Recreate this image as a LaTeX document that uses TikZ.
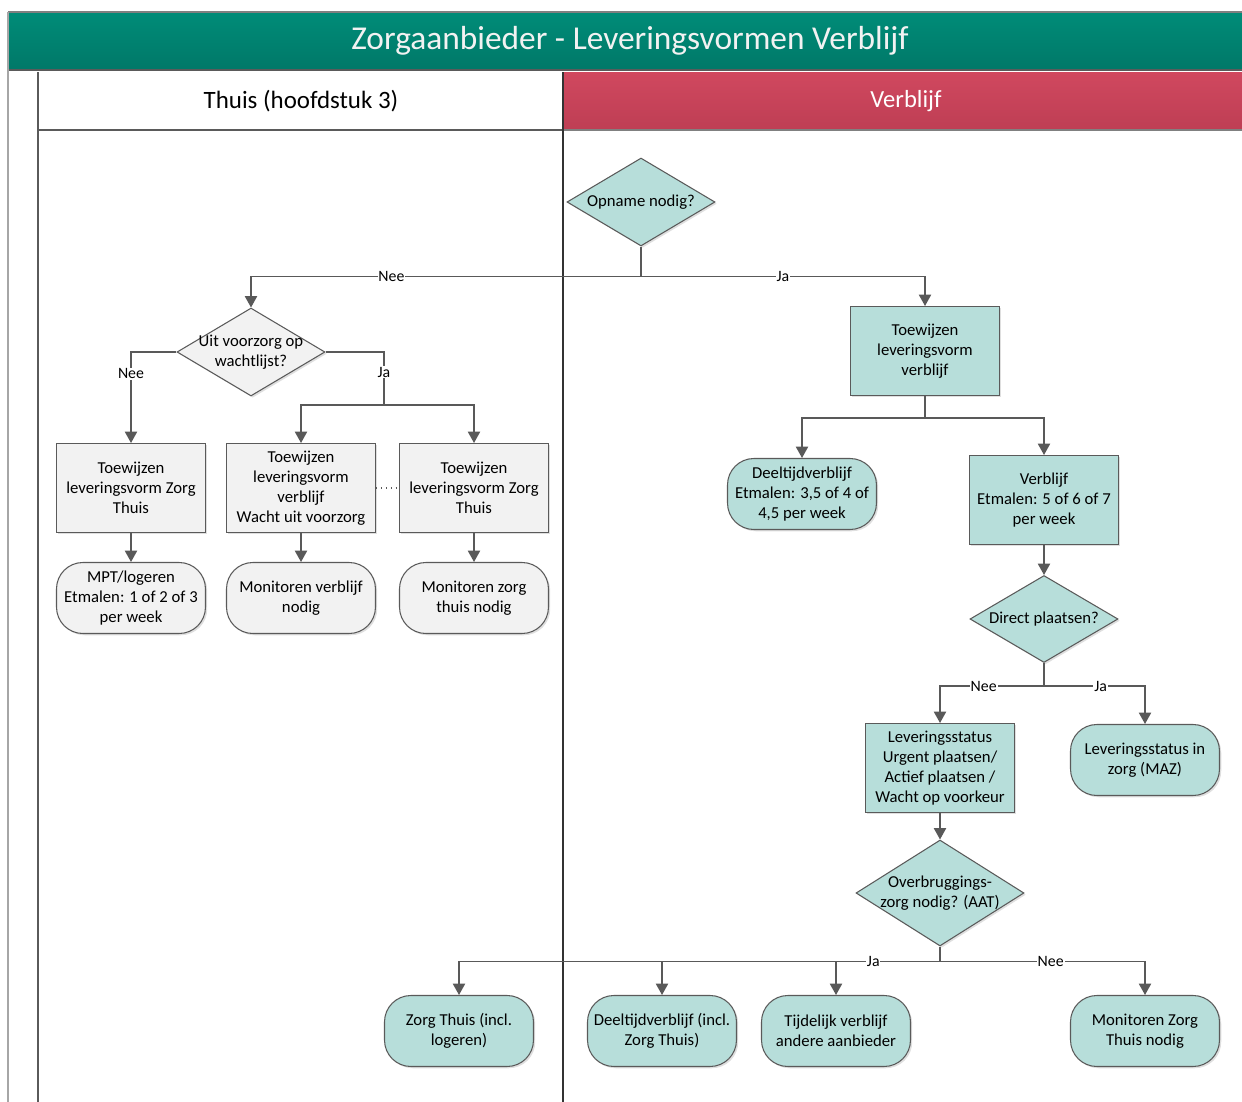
\documentclass[tikz,border=0pt]{standalone}
\usepackage{fontspec}
\setmainfont{Carlito}
\usepackage{tikz}
\usetikzlibrary{shapes.geometric,arrows.meta,shadows}
\definecolor{titelgroen}{HTML}{008C78}
\definecolor{titelgroendonker}{HTML}{007868}
\definecolor{kopjerood}{HTML}{D0485F}
\definecolor{kopjeroodd}{HTML}{BE3E54}
\definecolor{knoopgroen}{HTML}{B7DEDA}
\definecolor{knoopgrijs}{HTML}{F2F2F2}
\definecolor{rand}{HTML}{5A5A5A}
\definecolor{lijngrijs}{HTML}{595959}
\newcommand{\knoopfont}{\fontsize{9.5}{11.4}\selectfont}
\tikzset{
	procnode/.style={rectangle, draw=rand, line width=0.6pt, minimum width=2.98cm, minimum height=1.78cm, align=center, inner sep=0pt, font=\knoopfont, drop shadow={shadow xshift=1pt, shadow yshift=-1pt, opacity=0.25}},
	termnode/.style={rectangle, rounded corners=15pt, draw=rand, line width=0.6pt, minimum width=2.98cm, minimum height=1.42cm, align=center, inner sep=0pt, font=\knoopfont, drop shadow={shadow xshift=1pt, shadow yshift=-1pt, opacity=0.25}},
	decnode/.style={diamond, draw=rand, line width=0.6pt, minimum width=2.96cm, minimum height=1.76cm, inner sep=0pt, drop shadow={shadow xshift=1pt, shadow yshift=-1pt, opacity=0.25}},
	dtext/.style={align=center, inner sep=0pt, font=\knoopfont},
	lbl/.style={fill=white, inner sep=0.5pt, font=\fontsize{9}{10}\selectfont},
	conn/.style={draw=lijngrijs, line width=0.8pt},
	pijl/.style={conn, -{Triangle[length=6.5pt, width=7pt]}}
}

\begin{document}
\begin{tikzpicture}[x=0.02cm, y=-0.02cm]
	\useasboundingbox (0,0) rectangle (1242,1102);
	\fill[white] (0,0) rectangle (1242,1102);
	\shade[top color=titelgroen, bottom color=titelgroendonker] (8,12) rectangle (1242,70);
	\draw[gray, line width=0.8pt] (8,12) -- (1242,12);
	\draw[rand, line width=1pt] (8,70) -- (1242,70);
	\shade[top color=kopjerood, bottom color=kopjeroodd] (563,72) rectangle (1242,130);
	\draw[gray!70, line width=0.6pt] (8,12) -- (8,1102);
	\draw[rand, line width=0.6pt] (38,72) -- (38,1102);
	\draw[rand, line width=0.8pt] (38,130) -- (563,130);
	\draw[gray, line width=0.6pt] (563,130) -- (1242,130);
	\draw[black!80, line width=1pt] (563,72) -- (563,1102);
	\node[text=white!95!black, font=\fontsize{19}{22}\selectfont] (titel) at (630,41) {Zorgaanbieder - Leveringsvormen Verblijf};
	\node[font=\fontsize{14.2}{16}\selectfont] (thuis) at (301,101) {Thuis (hoofdstuk 3)};
	\node[text=white, font=\fontsize{14}{16}\selectfont] (verblijf) at (906,101) {Verblijf};

	\node[decnode, fill=knoopgroen, label={[dtext]center:{Opname nodig?}}] (opname) at (641,202) {};
	\node[decnode, fill=knoopgrijs, label={[dtext]center:{Uit voorzorg op\\wachtlijst?}}] (uit) at (251,352) {};
	\node[procnode, fill=knoopgrijs] (box1) at (131,488) {Toewijzen\\leveringsvorm Zorg\\Thuis};
	\node[procnode, fill=knoopgrijs] (box2) at (301,488) {Toewijzen\\leveringsvorm\\verblijf\\Wacht uit voorzorg};
	\node[procnode, fill=knoopgrijs] (box3) at (474,488) {Toewijzen\\leveringsvorm Zorg\\Thuis};
	\node[termnode, fill=knoopgrijs] (term1) at (131,598) {MPT/logeren\\Etmalen: 1 of 2 of 3\\per week};
	\node[termnode, fill=knoopgrijs] (term2) at (301,598) {Monitoren verblijf\\nodig};
	\node[termnode, fill=knoopgrijs] (term3) at (474,598) {Monitoren zorg\\thuis nodig};

	\node[procnode, fill=knoopgroen] (toew) at (925,351) {Toewijzen\\leveringsvorm\\verblijf};
	\node[termnode, fill=knoopgroen] (deel) at (802,494) {Deeltijdverblijf\\Etmalen: 3,5 of 4 of\\4,5 per week};
	\node[procnode, fill=knoopgroen] (verb) at (1044,500) {Verblijf\\Etmalen: 5 of 6 of 7\\per week};
	\node[decnode, fill=knoopgroen, minimum height=1.74cm, label={[dtext]center:{Direct plaatsen?}}] (direct) at (1044,619) {};
	\node[procnode, fill=knoopgroen] (lev) at (940,768) {Leveringsstatus\\Urgent plaatsen/\\Actief plaatsen /\\Wacht op voorkeur};
	\node[termnode, fill=knoopgroen] (maz) at (1145,760) {Leveringsstatus in\\zorg (MAZ)};
	\node[decnode, fill=knoopgroen, minimum width=3.36cm, minimum height=2.12cm, label={[dtext]center:{Overbruggings-\\zorg nodig? (AAT)}}] (over) at (940,893) {};
	\node[termnode, fill=knoopgroen] (zt) at (459,1031) {Zorg Thuis (incl.\\logeren)};
	\node[termnode, fill=knoopgroen] (deel2) at (662,1031) {Deeltijdverblijf (incl.\\Zorg Thuis)};
	\node[termnode, fill=knoopgroen] (tijd) at (836,1031) {Tijdelijk verblijf\\andere aanbieder};
	\node[termnode, fill=knoopgroen] (mon) at (1145,1031) {Monitoren Zorg\\Thuis nodig};

	\coordinate (j1) at ([yshift=-0.6cm]opname.south);
	\coordinate (jja) at (384,405);
	\coordinate (j2) at ([yshift=-0.44cm]toew.south);
	\coordinate (j3) at ([yshift=-0.46cm]direct.south);
	\coordinate (j4) at ([yshift=-0.3cm]over.south);

	\draw[conn] (opname.south) -- (j1);
	\draw[pijl] (j1) -| node[lbl, pos=0.32] {Nee} (uit.north);
	\draw[pijl] (j1) -| node[lbl, pos=0.25] {Ja} (toew.north);
	\draw[pijl] (uit.west) -| node[lbl, pos=0.62] {Nee} (box1.north);
	\draw[conn] (uit.east) -| node[lbl, pos=0.69] {Ja} (jja);
	\draw[pijl] (jja) -| (box2.north);
	\draw[pijl] (jja) -| (box3.north);
	\draw[rand, line width=0.8pt, dotted] (box2) -- (box3);
	\draw[pijl] (box1) -- (term1);
	\draw[pijl] (box2) -- (term2);
	\draw[pijl] (box3) -- (term3);

	\draw[conn] (toew.south) -- (j2);
	\draw[pijl] (j2) -| (deel.north);
	\draw[pijl] (j2) -| (verb.north);
	\draw[pijl] (verb) -- (direct);
	\draw[conn] (direct.south) -- (j3);
	\draw[pijl] (j3) -| node[lbl, pos=0.29] {Nee} (lev.north);
	\draw[pijl] (j3) -| node[lbl, pos=0.28] {Ja} (maz.north);
	\draw[pijl] (lev) -- (over);
	\draw[conn] (over.south) -- (j4);
	\draw[pijl] (j4) -| (zt.north);
	\draw[pijl] (j4) -| (tijd.north);
	\draw[pijl] (j4) -| node[lbl, pos=0.12] {Ja} (deel2.north);
	\draw[pijl] (j4) -| node[lbl, pos=0.27] {Nee} (mon.north);
\end{tikzpicture}
\end{document}
